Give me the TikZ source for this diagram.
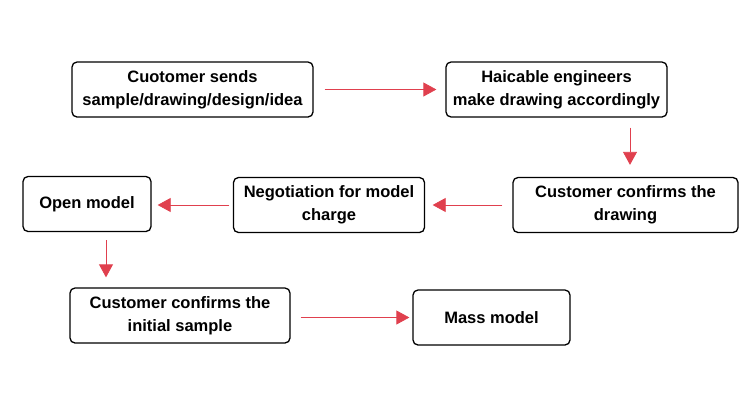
\documentclass[tikz,border=0pt]{standalone}
\usepackage{fontspec}
\setmainfont{Liberation Sans}
\usetikzlibrary{arrows.meta}
\definecolor{arr}{HTML}{E0404E}
\tikzset{
  box/.style={draw=black, line width=1.3pt, rounded corners=5pt, align=center, inner sep=0pt,
    font=\fontsize{16.5}{23}\selectfont\bfseries, fill=white},
  flow/.style={draw=arr, line width=0.8pt, -{Triangle[length=13pt,width=14pt,fill=arr]}}
}
\begin{document}
\begin{tikzpicture}[x=1pt,y=-1pt]
\useasboundingbox (0,0) rectangle (750,400);
\node[box, minimum width=241, minimum height=55] (b1) at (192.5,89.5) {Cuotomer sends\\sample/drawing/design/idea};
\node[box, minimum width=221, minimum height=55] (b2) at (556.5,89.5) {Haicable engineers\\make drawing accordingly};
\node[box, minimum width=225, minimum height=55] (b3) at (625.5,205) {Customer confirms the\\drawing};
\node[box, minimum width=191, minimum height=55] (b4) at (329,205) {Negotiation for model\\charge};
\node[box, minimum width=128, minimum height=55] (b5) at (87,204) {Open model};
\node[box, minimum width=220, minimum height=55] (b6) at (180,315.5) {Customer confirms the\\initial sample};
\node[box, minimum width=157, minimum height=55] (b7) at (491.5,317.5) {Mass model};
\draw[flow, shorten <=11pt, shorten >=9pt] (b1.east) -- (b2.west);
\draw[flow, shorten <=10pt, shorten >=12pt] ([xshift=73.5pt]b2.south) -- ([xshift=73.5pt]b2.south |- b3.north);
\draw[flow, shorten <=10pt, shorten >=7.5pt] (b3.west) -- (b4.east);
\draw[flow, shorten <=3.5pt, shorten >=6pt] (b4.west) -- (b5.east |- b4.west);
\draw[flow, shorten <=8pt, shorten >=10pt] ([xshift=19pt]b5.south) -- ([xshift=19pt]b5.south |- b6.north);
\draw[flow, shorten <=10pt, shorten >=3pt] (b6.east |- b7.west) -- (b7.west);
\end{tikzpicture}
\end{document}
